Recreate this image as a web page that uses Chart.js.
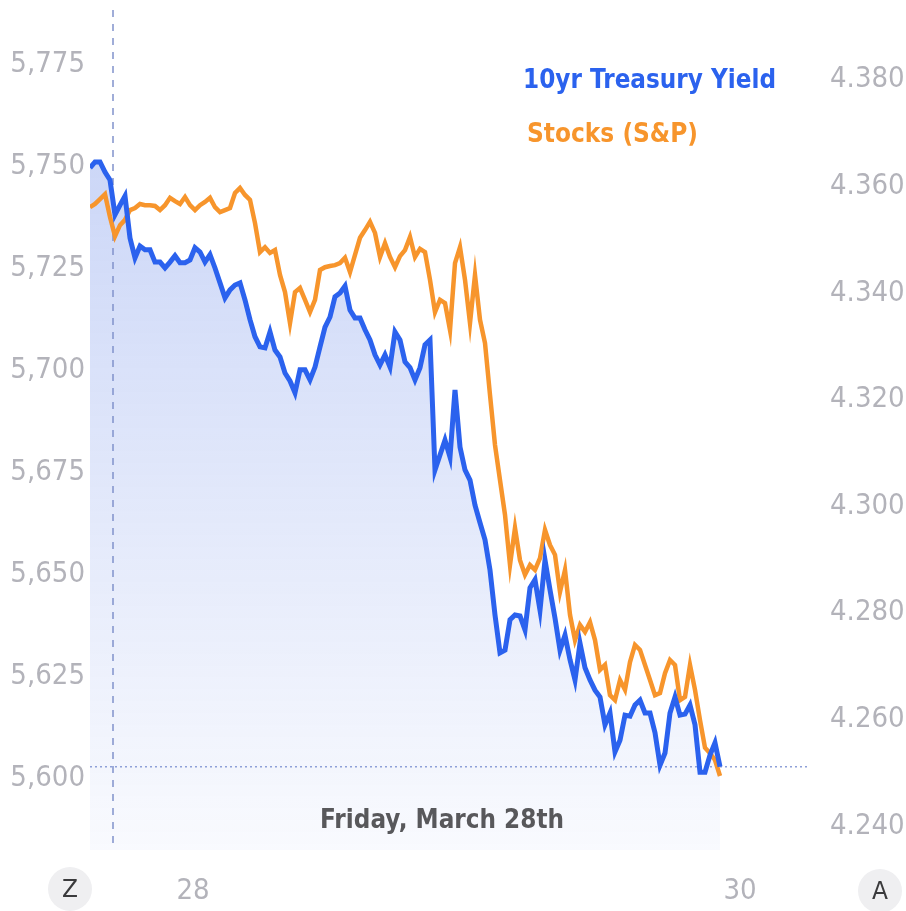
<!DOCTYPE html>
<html>
<head>
<meta charset="utf-8">
<script src="https://cdn.jsdelivr.net/npm/chart.js@4.4.1/dist/chart.umd.min.js"></script>
<style>
  html, body { margin: 0; padding: 0; background: #fff; }
  #wrap { position: relative; width: 906px; height: 911px; }
</style>
</head>
<body>
<div id="wrap"><canvas id="chart"></canvas></div>
<script>
// values, one sample every few minutes of the session
const yieldValues = [
  4.3635, 4.3646, 4.3646, 4.3627, 4.3612, 4.3547, 4.3565, 4.3582, 4.3503, 4.3466,
  4.3488, 4.3481, 4.3481, 4.3458, 4.3458, 4.3447, 4.3458, 4.3470, 4.3457, 4.3457,
  4.3462, 4.3485, 4.3477, 4.3458, 4.3472, 4.3447, 4.3419, 4.3391, 4.3406, 4.3415,
  4.3419, 4.3387, 4.3350, 4.3318, 4.3299, 4.3297, 4.3327, 4.3293, 4.3280, 4.3250,
  4.3235, 4.3213, 4.3256, 4.3256, 4.3237, 4.3261, 4.3299, 4.3336, 4.3355, 4.3393,
  4.3400, 4.3413, 4.3368, 4.3353, 4.3353, 4.3331, 4.3312, 4.3284, 4.3265, 4.3284,
  4.3261, 4.3327, 4.3312, 4.3271, 4.3260, 4.3237, 4.3260, 4.3303, 4.3312, 4.3068,
  4.3096, 4.3124, 4.3092, 4.3218, 4.3111, 4.3068, 4.3049, 4.3002, 4.2969, 4.2937,
  4.2880, 4.2796, 4.2725, 4.2730, 4.2787, 4.2796, 4.2794, 4.2768, 4.2847, 4.2862,
  4.2805, 4.2899, 4.2843, 4.2790, 4.2730, 4.2758, 4.2712, 4.2674, 4.2743, 4.2697,
  4.2674, 4.2655, 4.2642, 4.2590, 4.2612, 4.2539, 4.2561, 4.2608, 4.2606, 4.2627,
  4.2636, 4.2612, 4.2612, 4.2575, 4.2514, 4.2537, 4.2612, 4.2642, 4.2608, 4.2610,
  4.2627, 4.2590, 4.2501, 4.2501, 4.2533, 4.2556, 4.2511
];
const stockValues = [
  5739.9, 5740.7, 5741.9, 5743.1, 5737.5, 5732.8, 5735.5, 5736.8, 5739.2, 5739.7,
  5740.7, 5740.4, 5740.4, 5740.2, 5739.2, 5740.4, 5742.2, 5741.4, 5740.7, 5742.4,
  5740.4, 5739.2, 5740.4, 5741.2, 5742.2, 5739.9, 5738.7, 5739.2, 5739.7, 5743.4,
  5744.6, 5742.9, 5741.7, 5736.0, 5728.9, 5730.1, 5728.7, 5729.4, 5723.3, 5719.1,
  5711.5, 5719.1, 5720.1, 5717.2, 5714.2, 5717.2, 5724.5, 5725.2, 5725.5, 5725.7,
  5726.2, 5727.5, 5724.0, 5728.2, 5732.4, 5734.3, 5736.3, 5733.6, 5727.7, 5731.1,
  5727.7, 5725.2, 5727.9, 5729.4, 5732.6, 5727.7, 5729.7, 5728.9, 5722.1, 5714.2,
  5717.2, 5716.4, 5709.8, 5726.2, 5730.1, 5722.1, 5711.5, 5723.3, 5712.3, 5706.6,
  5693.9, 5681.6, 5673.0, 5664.5, 5652.2, 5661.3, 5653.4, 5649.8, 5652.2, 5651.0,
  5653.9, 5660.8, 5657.1, 5654.7, 5645.6, 5651.0, 5640.0, 5633.8, 5637.5, 5635.8,
  5638.2, 5633.8, 5626.5, 5627.7, 5620.3, 5619.1, 5624.0, 5621.6, 5628.4, 5632.6,
  5631.4, 5627.7, 5624.0, 5620.3, 5620.8, 5625.7, 5628.9, 5627.7, 5619.1, 5619.9,
  5627.7, 5621.6, 5614.2, 5607.4, 5606.1, 5604.4, 5600.5
];
const stockTicks = [5600, 5625, 5650, 5675, 5700, 5725, 5750, 5775];
const yieldTicks = [4.24, 4.26, 4.28, 4.30, 4.32, 4.34, 4.36, 4.38];
const xTickPos = [20.6, 130];
const xTickLabels = ['28', '30'];
const dayStart = 4.6;
const seriesNames = ['10yr Treasury Yield', 'Stocks (S&P)'];
const dateLabel = 'Friday, March 28th';
const cornerButtons = ['Z', 'A'];

const BLUE = '#2b62ee';
const ORANGE = '#f7952c';
const TICK_FONT = { family: '"DejaVu Sans Condensed", "DejaVu Sans", sans-serif', size: 29 };
const TICK_COLOR = '#b3b3ba';

// keep the plot box fixed: no extra room for half-labels at the ends
const noEndPadding = (s) => {
  s.paddingTop = 0;
  s.paddingBottom = 0;
  s.paddingLeft = 0;
  s.paddingRight = 0;
};

const extras = {
  id: 'extras',
  beforeDatasetsDraw(chart) {
    const { ctx, chartArea: a, scales } = chart;
    ctx.save();
    // dashed marker at the start of the day
    const x = scales.x.getPixelForValue(dayStart);
    ctx.strokeStyle = '#8193cc';
    ctx.lineWidth = 1.5;
    ctx.setLineDash([7, 7]);
    ctx.beginPath();
    ctx.moveTo(x, a.top);
    ctx.lineTo(x, a.bottom);
    ctx.stroke();
    // dotted line at the last yield
    const y = scales.y1.getPixelForValue(yieldValues[yieldValues.length - 1]);
    ctx.strokeStyle = '#8ea0d8';
    ctx.setLineDash([2, 3]);
    ctx.beginPath();
    ctx.moveTo(a.left, y);
    ctx.lineTo(a.right, y);
    ctx.stroke();
    ctx.restore();
  },
  afterDraw(chart) {
    const { ctx } = chart;
    ctx.save();
    // legend
    ctx.textBaseline = 'alphabetic';
    ctx.textAlign = 'left';
    ctx.font = 'bold 27px "DejaVu Sans", sans-serif';
    const legendPos = [[523, 88, 253], [527, 142, 171]];
    chart.data.datasets.forEach((ds, i) => {
      const [lx, ly, w] = legendPos[i];
      ctx.fillStyle = ds.borderColor;
      ctx.fillText(ds.label, lx, ly, w);
    });
    // date caption
    ctx.fillStyle = '#58585b';
    ctx.font = 'bold 27px "DejaVu Sans", sans-serif';
    ctx.textAlign = 'center';
    ctx.fillText(dateLabel, 442, 828, 244);
    // corner buttons
    const btn = [[70, 889], [880, 891]];
    ctx.font = '25px "DejaVu Sans", sans-serif';
    ctx.textBaseline = 'middle';
    cornerButtons.forEach((t, i) => {
      const [bx, by] = btn[i];
      ctx.fillStyle = '#efeff1';
      ctx.beginPath();
      ctx.arc(bx, by, 22, 0, Math.PI * 2);
      ctx.fill();
      ctx.fillStyle = '#3a3a3c';
      ctx.fillText(t, bx, by + 1, 16);
    });
    ctx.restore();
  }
};

new Chart(document.getElementById('chart'), {
  type: 'line',
  data: {
    datasets: [
      {
        label: seriesNames[0],
        data: yieldValues.map((v, i) => ({ x: i, y: v })),
        yAxisID: 'y1',
        borderColor: BLUE,
        borderWidth: 5,
        pointRadius: 0,
        tension: 0,
        fill: 'start',
        backgroundColor: (c) => {
          const a = c.chart.chartArea;
          if (!a) return 'rgba(58,100,225,0.15)';
          const g = c.chart.ctx.createLinearGradient(0, a.top + 150, 0, a.bottom);
          g.addColorStop(0, 'rgba(58,100,225,0.26)');
          g.addColorStop(1, 'rgba(58,100,225,0.03)');
          return g;
        },
        order: 1
      },
      {
        label: seriesNames[1],
        data: stockValues.map((v, i) => ({ x: i, y: v })),
        yAxisID: 'y',
        borderColor: ORANGE,
        borderWidth: 4.5,
        pointRadius: 0,
        tension: 0,
        fill: false,
        order: 2
      }
    ]
  },
  options: {
    responsive: true,
    maintainAspectRatio: false,
    animation: false,
    layout: { padding: { top: 10, left: 0, right: 0, bottom: 0 } },
    plugins: {
      legend: { display: false },
      tooltip: { enabled: false },
      filler: { drawTime: 'beforeDatasetsDraw' }
    },
    scales: {
      x: {
        type: 'linear',
        min: 0,
        max: 143.8,
        grid: { display: false, drawTicks: false },
        border: { display: false },
        afterFit: (s) => { s.height = 61; noEndPadding(s); },
        afterBuildTicks: (s) => { s.ticks = xTickPos.map((v) => ({ value: v })); },
        ticks: {
          autoSkip: false,
          maxRotation: 0,
          padding: 24,
          font: TICK_FONT,
          color: TICK_COLOR,
          callback: (v, i) => xTickLabels[i]
        }
      },
      y: {
        position: 'left',
        min: 5582.35,
        max: 5788.24,
        grid: { display: false, drawTicks: false },
        border: { display: false },
        afterFit: (s) => { s.width = 90; noEndPadding(s); },
        afterBuildTicks: (s) => { s.ticks = stockTicks.map((v) => ({ value: v })); },
        ticks: {
          padding: 5,
          font: TICK_FONT,
          color: TICK_COLOR,
          callback: (v) => v.toLocaleString('en-US')
        }
      },
      y1: {
        position: 'right',
        min: 4.2355,
        max: 4.3931,
        grid: { display: false, drawTicks: false },
        border: { display: false },
        afterFit: (s) => { s.width = 97; noEndPadding(s); },
        afterBuildTicks: (s) => { s.ticks = yieldTicks.map((v) => ({ value: v })); },
        ticks: {
          padding: 21,
          font: TICK_FONT,
          color: TICK_COLOR,
          callback: (v) => v.toFixed(3)
        }
      }
    }
  },
  plugins: [extras]
});
</script>
</body>
</html>
